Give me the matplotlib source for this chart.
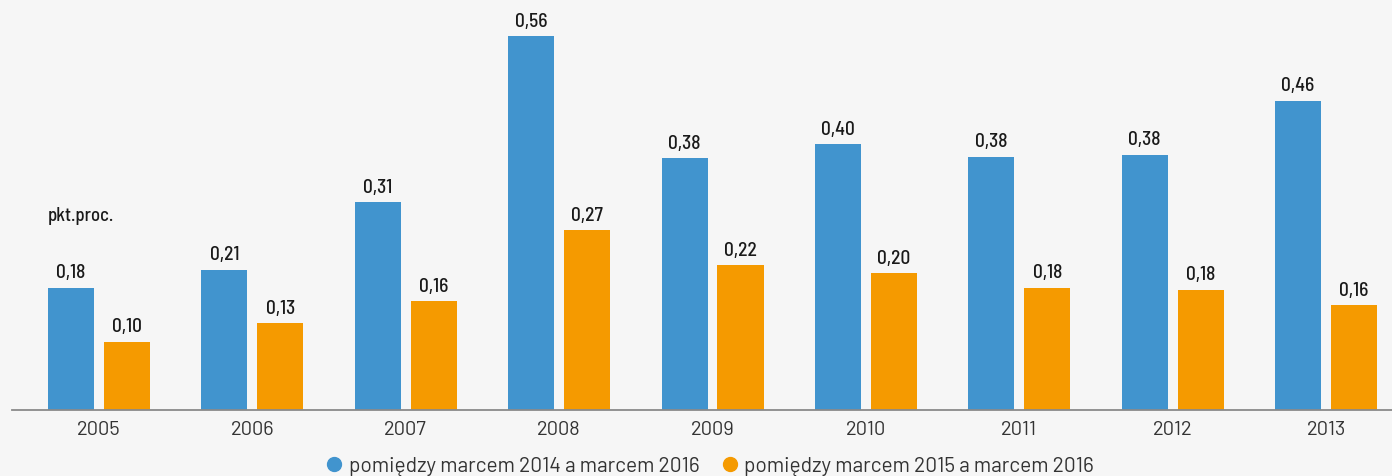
import matplotlib
matplotlib.use("Agg")
import matplotlib.pyplot as plt
from matplotlib.lines import Line2D
import numpy as np

years = ["2005", "2006", "2007", "2008", "2009", "2010", "2011", "2012", "2013"]
blue_vals = [0.183, 0.210, 0.311, 0.560, 0.377, 0.398, 0.379, 0.382, 0.463]
orange_vals = [0.102, 0.130, 0.163, 0.269, 0.217, 0.205, 0.183, 0.180, 0.157]
blue_label = "pomiędzy marcem 2014 a marcem 2016"
orange_label = "pomiędzy marcem 2015 a marcem 2016"
unit_label = "pkt.proc."

BLUE = "#4194ce"
ORANGE = "#f59a00"
BG = "#f6f6f6"
FONT = ["Barlow Semi Condensed", "DejaVu Sans"]
TFONT = ["Barlow", "DejaVu Sans"]

fig = plt.figure(figsize=(13.92, 4.76), dpi=100, facecolor=BG)
ax = fig.add_axes([12/1392, 1 - 410/476, 1 - 12/1392, 410/476])
ax.set_facecolor(BG)

x = np.arange(len(years))
w = 0.30
off = 0.1825
bb = ax.bar(x - off, blue_vals, w, color=BLUE, label=blue_label, zorder=2)
ob = ax.bar(x + off, orange_vals, w, color=ORANGE, label=orange_label, zorder=2)

for bars, vals in ((bb, blue_vals), (ob, orange_vals)):
    for r, v in zip(bars, vals):
        ax.annotate(f"{v:.2f}".replace(".", ","),
                    (r.get_x() + r.get_width()/2, r.get_height()),
                    xytext=(0, 4), textcoords="offset points",
                    ha="center", va="bottom", fontsize=14, fontweight=500,
                    family=FONT, color="#1a1a1a")

ax.set_xlim(-0.567, 8.43)
ax.set_ylim(0, 0.614)
for s in ("top", "right", "left"):
    ax.spines[s].set_visible(False)
ax.spines["bottom"].set_color("#8a8a8a")
ax.spines["bottom"].set_linewidth(1.3)
ax.set_yticks([])
ax.set_xticks(x)
ax.set_xticklabels(years, family=TFONT, fontsize=14.5, color="#333333")
ax.tick_params(axis="x", length=0, pad=8)

fig.text(48/1392, 1 - 216/476, unit_label, family=FONT, fontsize=13.5,
         fontweight=500, color="#1a1a1a", va="center", ha="left")

handles = [Line2D([0], [0], marker="o", linestyle="", markersize=10, color=BLUE),
           Line2D([0], [0], marker="o", linestyle="", markersize=10, color=ORANGE)]
fig.legend(handles, [blue_label, orange_label], loc="center",
           bbox_to_anchor=(709/1392, 1 - 466/476), ncol=2, frameon=False,
           prop={"family": TFONT, "size": 15}, handletextpad=0.2,
           columnspacing=0.95, handlelength=1.0, labelcolor="#333333",
           borderaxespad=0, borderpad=0)

fig.savefig("out.png", dpi=100, facecolor=BG)
